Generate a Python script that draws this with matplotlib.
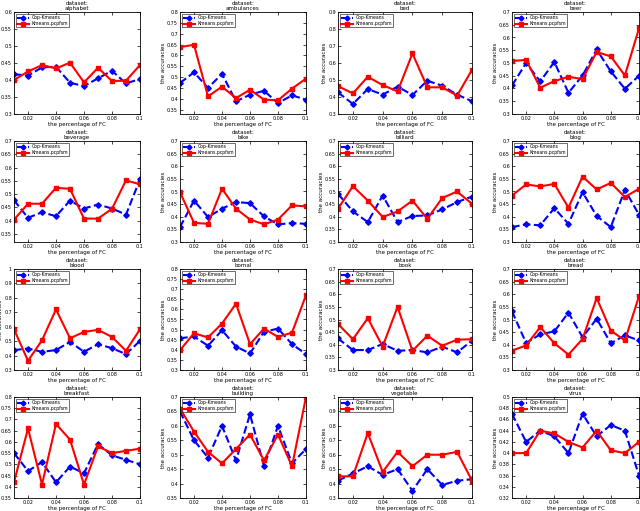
import numpy as np
import matplotlib
matplotlib.use("Agg")
import matplotlib.pyplot as plt

# porcentaje de FC (eje x)
fc = [0.01, 0.02, 0.03, 0.04, 0.05, 0.06, 0.07, 0.08, 0.09, 0.1]
xticks = [0.02, 0.04, 0.06, 0.08, 0.1]
xticklabels = ["0.02", "0.04", "0.06", "0.08", "0.1"]

datasets = ["alphabet", "ambulances", "bed", "beer",
            "beverage", "bike", "billiard", "blog",
            "blood", "bomal", "book", "bread",
            "breakfast", "building", "vegetable", "virus"]

# Cop-Kmeans
cop = [
    [0.417, 0.413, 0.437, 0.439, 0.392, 0.382, 0.405, 0.427, 0.390, 0.403],
    [0.473, 0.522, 0.450, 0.515, 0.388, 0.419, 0.437, 0.380, 0.416, 0.396],
    [0.427, 0.359, 0.447, 0.414, 0.461, 0.412, 0.496, 0.466, 0.414, 0.375],
    [0.412, 0.500, 0.428, 0.504, 0.383, 0.451, 0.553, 0.467, 0.399, 0.450],
    [0.477, 0.411, 0.432, 0.417, 0.476, 0.446, 0.461, 0.446, 0.423, 0.556],
    [0.359, 0.464, 0.399, 0.432, 0.458, 0.454, 0.401, 0.370, 0.375, 0.372],
    [0.491, 0.421, 0.379, 0.484, 0.379, 0.403, 0.405, 0.429, 0.458, 0.480],
    [0.359, 0.370, 0.366, 0.434, 0.372, 0.497, 0.403, 0.359, 0.507, 0.408],
    [0.438, 0.449, 0.426, 0.438, 0.495, 0.426, 0.479, 0.451, 0.410, 0.502],
    [0.457, 0.466, 0.420, 0.497, 0.416, 0.382, 0.489, 0.505, 0.428, 0.379],
    [0.425, 0.379, 0.379, 0.403, 0.376, 0.379, 0.370, 0.392, 0.370, 0.416],
    [0.532, 0.407, 0.441, 0.453, 0.527, 0.430, 0.503, 0.406, 0.437, 0.417],
    [0.55, 0.47, 0.51, 0.42, 0.49, 0.46, 0.59, 0.54, 0.52, 0.50],
    [0.65, 0.55, 0.49, 0.60, 0.48, 0.64, 0.46, 0.60, 0.47, 0.52],
    [0.42, 0.47, 0.52, 0.46, 0.50, 0.35, 0.50, 0.39, 0.42, 0.43],
    [0.47, 0.42, 0.44, 0.43, 0.40, 0.47, 0.43, 0.45, 0.44, 0.36],
]

# Kmeans.pcpfsm
pcp = [
    [0.400, 0.425, 0.444, 0.434, 0.451, 0.393, 0.436, 0.397, 0.398, 0.444],
    [0.638, 0.649, 0.411, 0.456, 0.403, 0.442, 0.396, 0.393, 0.447, 0.493],
    [0.464, 0.421, 0.519, 0.470, 0.433, 0.656, 0.457, 0.457, 0.408, 0.560],
    [0.508, 0.512, 0.403, 0.429, 0.446, 0.437, 0.543, 0.526, 0.451, 0.636],
    [0.404, 0.464, 0.464, 0.524, 0.520, 0.408, 0.408, 0.445, 0.552, 0.537],
    [0.497, 0.376, 0.372, 0.511, 0.432, 0.389, 0.370, 0.389, 0.445, 0.441],
    [0.432, 0.521, 0.464, 0.399, 0.421, 0.464, 0.392, 0.474, 0.500, 0.451],
    [0.484, 0.528, 0.520, 0.530, 0.436, 0.559, 0.508, 0.534, 0.478, 0.511],
    [0.582, 0.364, 0.506, 0.720, 0.520, 0.564, 0.578, 0.529, 0.433, 0.582],
    [0.398, 0.482, 0.461, 0.530, 0.628, 0.428, 0.505, 0.464, 0.485, 0.670],
    [0.482, 0.422, 0.505, 0.393, 0.550, 0.376, 0.436, 0.396, 0.420, 0.422],
    [0.377, 0.397, 0.470, 0.406, 0.361, 0.423, 0.585, 0.456, 0.417, 0.592],
    [0.42, 0.66, 0.41, 0.68, 0.61, 0.41, 0.58, 0.55, 0.56, 0.57],
    [0.66, 0.58, 0.51, 0.47, 0.52, 0.57, 0.48, 0.57, 0.46, 0.70],
    [0.45, 0.45, 0.75, 0.48, 0.62, 0.52, 0.60, 0.60, 0.62, 0.42],
    [0.40, 0.40, 0.44, 0.435, 0.42, 0.41, 0.44, 0.405, 0.40, 0.42],
]

ylims = [(0.3, 0.6), (0.33, 0.8), (0.3, 0.9), (0.3, 0.7),
         (0.32, 0.7), (0.3, 0.7), (0.3, 0.7), (0.3, 0.7),
         (0.3, 1.0), (0.3, 0.8), (0.3, 0.7), (0.3, 0.7),
         (0.35, 0.8), (0.35, 0.7), (0.3, 1.0), (0.32, 0.5)]
ysteps = [0.05, 0.05, 0.1, 0.05,
          0.05, 0.05, 0.05, 0.05,
          0.1, 0.05, 0.05, 0.05,
          0.05, 0.05, 0.1, 0.02]

# posiciones de los ejes en pixeles
col_l = [14, 180, 338, 512]
col_r = [140, 306, 472, 639]
row_t = [12, 141, 269, 397]
row_b = [114, 242, 370, 498]

W, H = 640, 511
fig = plt.figure(figsize=(6.4, 5.11), dpi=100)

for i, name in enumerate(datasets):
    r, c = i // 4, i % 4
    ax = fig.add_axes([col_l[c]/W, 1 - row_b[r]/H,
                       (col_r[c]-col_l[c])/W, (row_b[r]-row_t[r])/H])
    ax.plot(fc, cop[i], "b--", marker="D", markersize=2.8, linewidth=1.5,
            label="Cop-Kmeans")
    ax.plot(fc, pcp[i], "r-", marker="s", markersize=2.8, linewidth=1.5,
            label="Kmeans.pcpfsm")
    ax.set_xlim(0.01, 0.1)
    lo, hi = ylims[i]
    ax.set_ylim(lo, hi)
    st = ysteps[i]
    yt = np.arange(np.ceil(lo/st - 1e-6)*st, hi + 1e-9, st)
    ax.set_yticks(yt)
    ax.set_yticklabels([("%g" % round(v, 2)) for v in yt])
    ax.set_xticks(xticks)
    ax.set_xticklabels(xticklabels)
    ax.tick_params(direction="in", top=True, right=True, length=2,
                   width=0.5, labelsize=3.5, pad=1.5)
    for s in ax.spines.values():
        s.set_linewidth(0.6)
    ax.set_title("dataset:\n" + name, fontsize=4, pad=1.5, linespacing=1.0)
    ax.set_xlabel("the percentage of FC", fontsize=4, labelpad=1)
    ax.set_ylabel("the accuracies", fontsize=4, labelpad=1)
    leg = ax.legend(loc="upper left", fontsize=3.3, frameon=True, fancybox=False,
                    borderpad=0.25, handlelength=2.6, handletextpad=0.5,
                    borderaxespad=0.5, labelspacing=0.15, markerscale=0.9)
    leg.get_frame().set_edgecolor("black")
    leg.get_frame().set_linewidth(0.5)

fig.savefig("out.png", dpi=100)
